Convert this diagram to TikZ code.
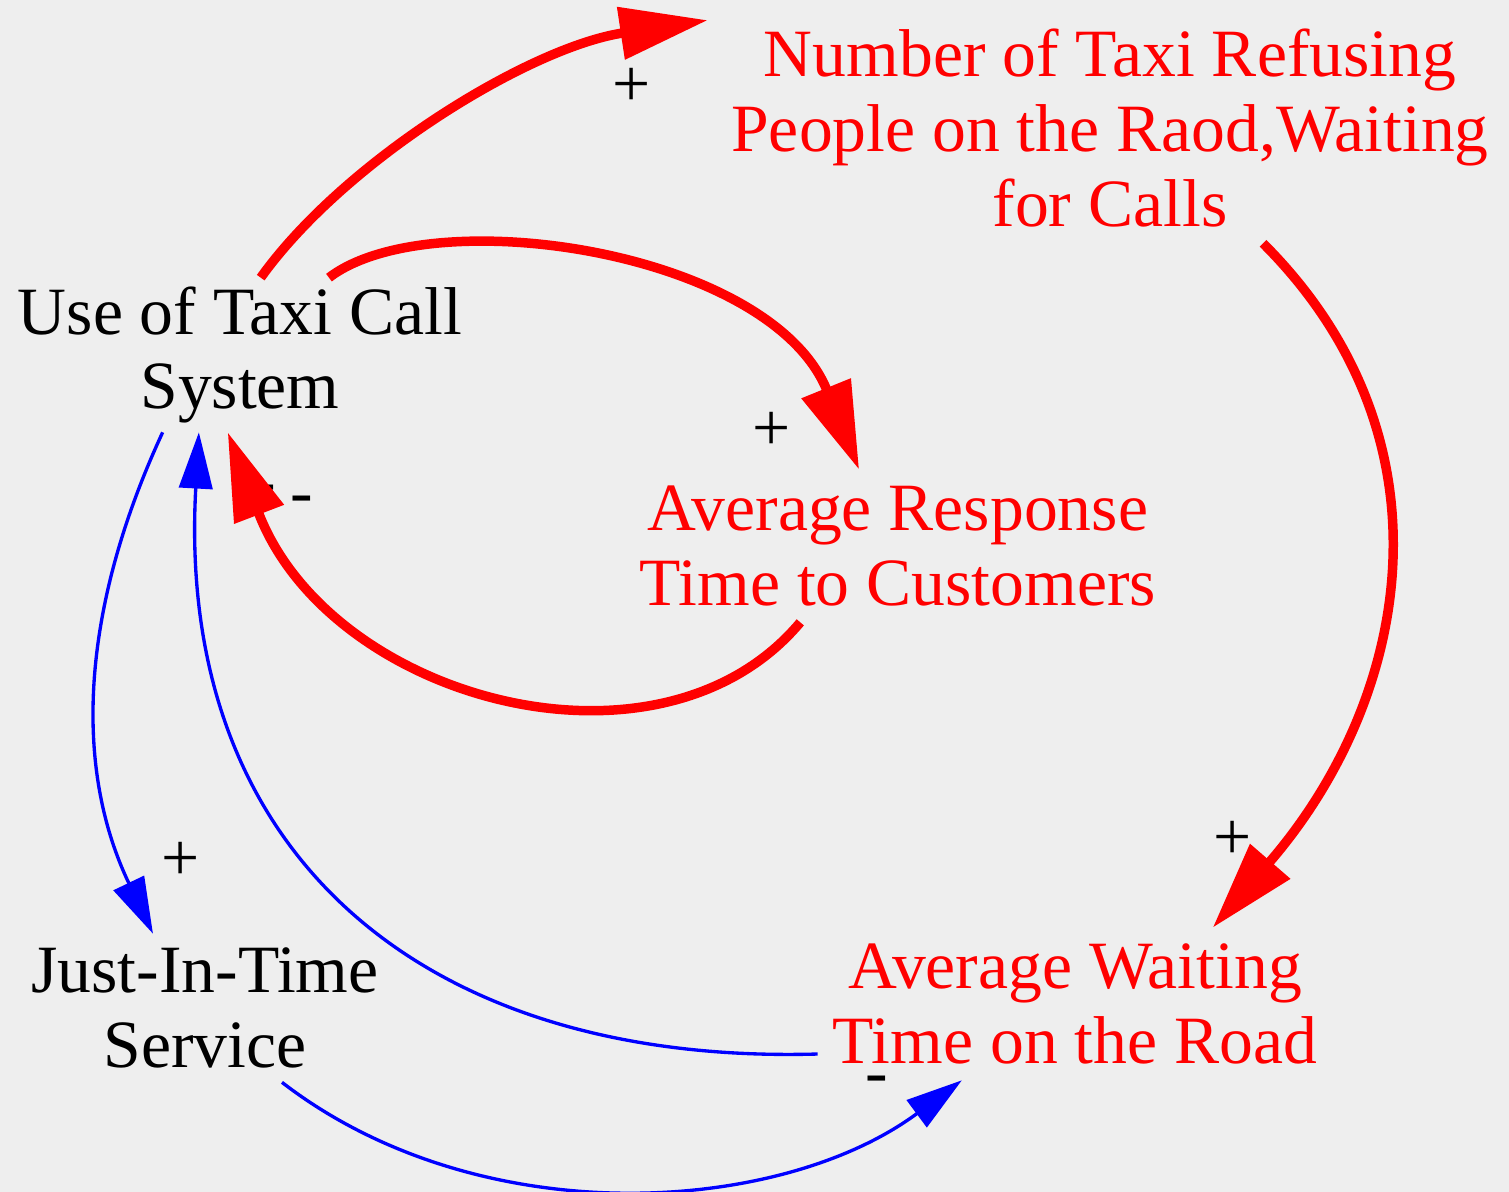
\documentclass[tikz,border=0pt]{standalone}
\usepackage{fontspec}
\setmainfont{Liberation Serif}
\usetikzlibrary{arrows.meta}
\definecolor{bg}{RGB}{238,238,238}

\begin{document}
\begin{tikzpicture}[x=0.02cm,y=-0.02cm,
                var/.style={inner sep=0pt,align=center,font=\fontsize{38.5}{42.5}\selectfont},
                sign/.style={inner sep=0pt,font=\fontsize{38.5}{42.5}\selectfont},
                strong/.style={draw=red,line width=5.4pt,-{Triangle[length=50pt,width=29pt]}},
                weak/.style={draw=blue,line width=1.9pt,-{Triangle[length=32pt,width=19pt]}}]
                \fill[bg](0, 0) rectangle (1509, 1192);
                \useasboundingbox (0, 0) rectangle (1509, 1192);
                % variables of the loop
                \node[var,minimum width=9.2cm,minimum height=3.08cm](use)at(240, 355){Use of Taxi Call\\System};
                \node[var,text=red,minimum width=16.08cm,minimum height=4.6cm](refuse)at(1110, 128){Number of Taxi Refusing\\People on the Raod,Waiting\\for Calls};
                \node[var,text=red,minimum width=10.8cm,minimum height=3.04cm](resp)at(898, 546){Average Response\\Time to Customers};
                \node[var,minimum width=7.6cm,minimum height=2.96cm](jit)at(205, 1008){Just-In-Time\\Service};
                \node[var,text=red,minimum width=10.28cm,minimum height=3.04cm](wait)at(1075, 1004){Average Waiting\\Time on the Road};
                % polarity marks
                \node[sign](s1)at(632, 87){+};
                \node[sign](s2)at(772, 431){+};
                \node[sign](s3)at(302, 505){-};
                \node[sign](s4)at(1233, 840){+};
                \node[sign](s5)at(181, 861){+};
                \node[sign](s6)at(265, 494){-};
                \node[sign](s7)at(877, 1085){-};
                % blue links
                \draw[weak](use.225.8) .. controls (85, 600) and (70, 760) .. (jit.125.2);
                \draw[weak](wait.191.7) .. controls (430, 1065) and (175, 860) .. (use.242);
                \draw[weak](jit.316.4) .. controls (480, 1235) and (780, 1215) .. (wait.214.6);
                % red links
                \draw[strong](use.75.4) .. controls (345, 160) and (530, 47) .. (refuse.165.6);
                \draw[strong](use.41.2) .. controls (430, 200) and (770, 250) .. (resp.117.8);
                \draw[strong](resp.218.7) .. controls (660, 790) and (330, 700) .. (use.261.1);
                \draw[strong](refuse.323.5) .. controls (1460, 440) and (1410, 700) .. (wait.29.4);
\end{tikzpicture}
\end{document}
